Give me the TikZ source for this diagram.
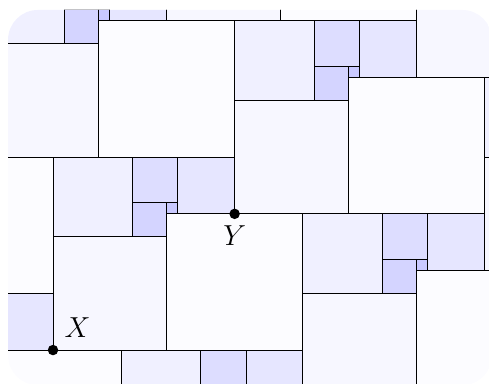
\RequirePackage{fix-cm}
\documentclass[tikz,border=0pt]{standalone}
\definecolor{cA}{RGB}{252,252,255}
\definecolor{cB}{RGB}{247,247,255}
\definecolor{cC}{RGB}{240,240,255}
\definecolor{cD}{RGB}{230,230,255}
\definecolor{cE}{RGB}{221,221,255}
\definecolor{cF}{RGB}{212,212,255}
\definecolor{cG}{RGB}{201,201,255}
\tikzset{
  tile/.style={draw=black, line width=0.9pt},
  dot/.style={circle, fill=black, inner sep=0pt, minimum size=10.5pt},
  lab/.style={font=\fontsize{29}{32}\selectfont, inner sep=0pt}
}
\begin{document}
\begin{tikzpicture}[x=0.4cm, y=0.4cm]
\useasboundingbox (-4.67,-2.91) rectangle (38.41,30.84);
\begin{scope}
\clip[rounded corners=1.05cm] (-3.96,-3.1) rectangle (38.68,29.96);
\foreach \m in {-2,...,3}{
  \foreach \n in {-2,...,2}{
    \begin{scope}[shift={({16*(\m)-6*(\n)},{12*(\m)+17*(\n)})}]
      \draw[tile, fill=cB] (0,0) rectangle ++(10,10);
      \draw[tile, fill=cA] (10,0) rectangle ++(12,12);
      \draw[tile, fill=cC] (0,10) rectangle ++(7,7);
      \draw[tile, fill=cF] (7,10) rectangle ++(3,3);
      \draw[tile, fill=cG] (10,12) rectangle ++(1,1);
      \draw[tile, fill=cE] (7,13) rectangle ++(4,4);
      \draw[tile, fill=cD] (11,12) rectangle ++(5,5);
    \end{scope}
  }
}
\end{scope}
\node[dot] (X) at (0,0) {};
\node[dot] (Y) at (16,12) {};
\node[lab] (Xl) at (2.16,1.94) {$X$};
\node[lab] (Yl) at (16.0,10.04) {$Y$};
\end{tikzpicture}
\end{document}
